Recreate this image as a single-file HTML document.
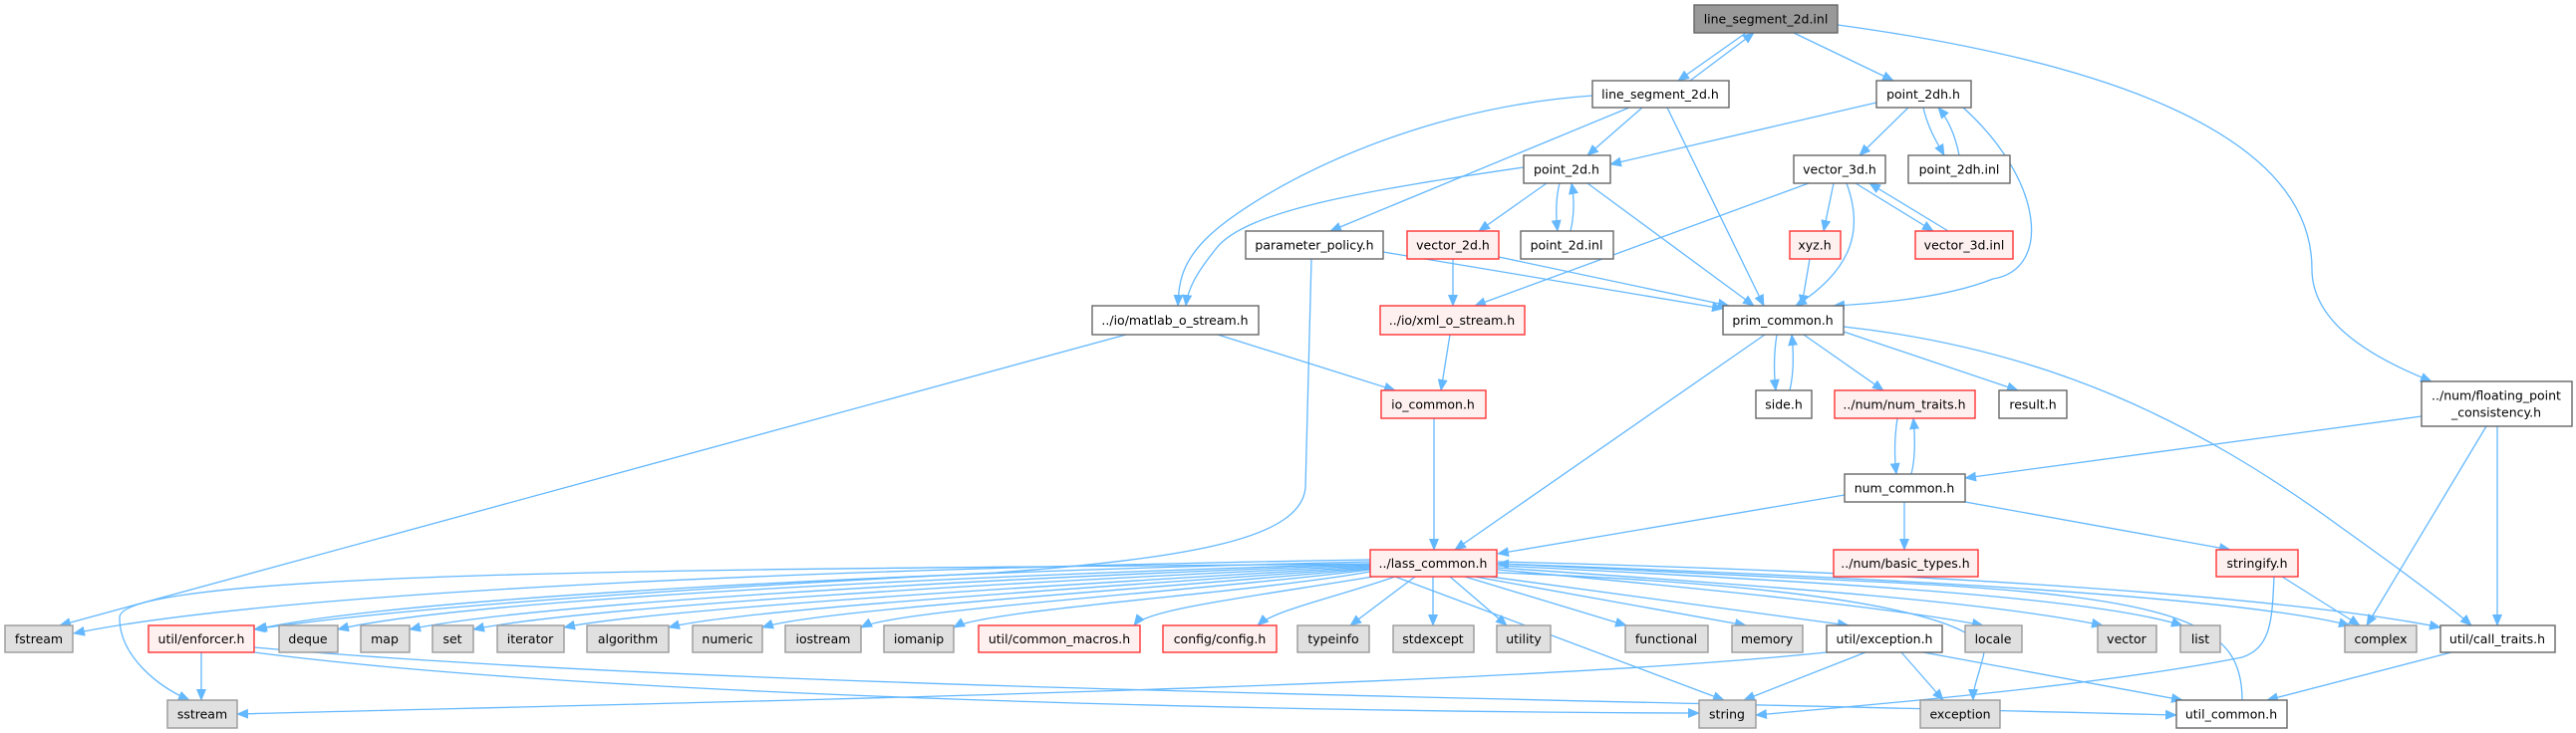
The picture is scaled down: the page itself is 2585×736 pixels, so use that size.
<!DOCTYPE html>
<html><head><meta charset="utf-8">
<style>
html,body{margin:0;padding:0;background:#fff;}
svg{display:block;}
text{font-family:"DejaVu Sans","Liberation Sans",sans-serif;font-size:12.5px;fill:#000;text-anchor:middle;dominant-baseline:central;}
.e{fill:none;stroke:#63b8ff;stroke-width:1.3;marker-end:url(#a);}
.n rect{fill:#fff;stroke:#666;stroke-width:1.4;}
.r rect{fill:#fff0f0;stroke:#ff3333;stroke-width:1.4;}
.g rect{fill:#e0e0e0;stroke:#999;stroke-width:1.4;}
.root rect{fill:#999;stroke:#666;stroke-width:1.4;}
</style></head><body>
<svg width="2585" height="736" viewBox="0 0 2585 736" xmlns="http://www.w3.org/2000/svg">
<defs><marker id="a" markerWidth="12" markerHeight="10" refX="11" refY="5" orient="auto" markerUnits="userSpaceOnUse"><path d="M0,0 L12,5 L0,10 z" fill="#63b8ff"/></marker></defs>

<path class="e" d="M1752,33 L1684,81"/>
<path class="e" d="M1696,81 L1760,33"/>
<path class="e" d="M1800,33 L1900,81"/>
<path class="e" d="M1844,25 C2100,60 2320,130 2320,270 C2320,320 2370,355 2440,383"/>
<path class="e" d="M1648,108 L1593,156"/>
<path class="e" d="M1635,108 L1335,232"/>
<path class="e" d="M1598,96 C1400,110 1250,200 1210,240 C1185,265 1183,285 1182,307"/>
<path class="e" d="M1673,108 L1770,307"/>
<path class="e" d="M1883,103 L1616,165"/>
<path class="e" d="M1915,108 L1866,156"/>
<path class="e" d="M1930,108 C1935,130 1945,145 1951,156"/>
<path class="e" d="M1966,156 C1962,135 1955,120 1945,108"/>
<path class="e" d="M1970,108 C2050,180 2060,270 2000,280 C1950,300 1880,305 1840,307"/>
<path class="e" d="M1529,168 C1380,190 1250,210 1220,250 C1200,275 1192,290 1190,307"/>
<path class="e" d="M1552,184 L1484,232"/>
<path class="e" d="M1565,184 C1561,200 1561,215 1563,232"/>
<path class="e" d="M1576,232 C1580,215 1580,200 1577,184"/>
<path class="e" d="M1593,184 L1760,307"/>
<path class="e" d="M1815,184 L1480,307"/>
<path class="e" d="M1840,184 L1830,232"/>
<path class="e" d="M1853,184 C1870,230 1860,270 1802,307"/>
<path class="e" d="M1862,184 L1940,232"/>
<path class="e" d="M1955,232 L1876,184"/>
<path class="e" d="M1816,260 L1808,307"/>
<path class="e" d="M1458,260 L1458,307"/>
<path class="e" d="M1504,258 L1735,307"/>
<path class="e" d="M1388,253 L1729,310"/>
<path class="e" d="M1316,260 L1310,490 C1305,540 1200,560 1000,575 C700,590 400,610 255,632"/>
<path class="e" d="M1130,336 L60,628"/>
<path class="e" d="M1222,336 L1400,392"/>
<path class="e" d="M1455,336 L1446,392"/>
<path class="e" d="M1439,420 L1439,552"/>
<path class="e" d="M1771,336 L1460,552"/>
<path class="e" d="M1783,336 C1780,355 1780,375 1782,392"/>
<path class="e" d="M1796,392 C1800,375 1800,355 1798,336"/>
<path class="e" d="M1810,336 L1890,392"/>
<path class="e" d="M1850,333 L2025,392"/>
<path class="e" d="M1850,328 C2050,350 2200,420 2350,530 C2420,580 2460,610 2480,628"/>
<path class="e" d="M1904,420 C1901,440 1901,460 1903,476"/>
<path class="e" d="M1918,476 C1922,460 1922,440 1920,420"/>
<path class="e" d="M2430,418 L1972,480"/>
<path class="e" d="M2495,428 L2375,628"/>
<path class="e" d="M2506,428 L2506,628"/>
<path class="e" d="M1851,497 L1503,556"/>
<path class="e" d="M1911,504 L1911,552"/>
<path class="e" d="M1972,504 L2238,552"/>
<path class="e" d="M2290,579 L2368,628"/>
<path class="e" d="M2282,579 C2280,620 2280,650 2250,660 C2100,690 1850,710 1762,718"/>

<path class="e" d="M1375,562 C900,570 300,590 74,636"/>
<path class="e" d="M1375,564 C900,575 400,600 257,632"/>
<path class="e" d="M1375,566 C900,580 450,605 339,632"/>
<path class="e" d="M1375,567 C950,582 520,608 411,632"/>
<path class="e" d="M1375,568 C1000,585 580,610 475,632"/>
<path class="e" d="M1375,569 C1050,588 650,612 566,630"/>
<path class="e" d="M1375,570 C1100,590 740,612 671,630"/>
<path class="e" d="M1375,571 C1150,592 820,612 765,630"/>
<path class="e" d="M1375,572 C1200,594 900,612 864,630"/>
<path class="e" d="M1375,574 C1250,596 990,612 957,630"/>
<path class="e" d="M1378,579 C1250,600 1150,612 1138,628"/>
<path class="e" d="M1400,579 C1340,600 1280,612 1262,628"/>
<path class="e" d="M1420,579 L1355,628"/>
<path class="e" d="M1438,579 L1438,628"/>
<path class="e" d="M1455,579 L1512,628"/>
<path class="e" d="M1470,579 L1632,628"/>
<path class="e" d="M1480,579 L1752,628"/>
<path class="e" d="M1495,579 L1855,628"/>
<path class="e" d="M1503,572 C1700,590 1900,610 1990,628"/>
<path class="e" d="M1503,570 C1800,590 2000,605 2110,628"/>
<path class="e" d="M1503,568 C1850,585 2100,600 2190,628"/>
<path class="e" d="M1503,566 C1900,580 2250,600 2358,628"/>
<path class="e" d="M1503,564 C1950,575 2300,600 2449,630"/>
<path class="e" d="M1400,579 L1730,703"/>
<path class="e" d="M1375,566 C800,572 120,570 120,620 C120,660 160,690 190,703"/>
<path class="e" d="M1503,575 C1900,590 2000,630 1990,660 C1985,680 1980,690 1980,703"/>
<path class="e" d="M2250,703 C2250,630 2200,600 1900,585 C1700,575 1600,570 1503,566"/>

<path class="e" d="M202,655 L202,703"/>
<path class="e" d="M255,655 C600,700 1300,715 1705,716"/>
<path class="e" d="M255,650 C700,690 1500,700 2184,718"/>
<path class="e" d="M1833,655 C1500,690 700,705 238,717"/>
<path class="e" d="M1872,655 L1750,703"/>
<path class="e" d="M1908,655 L1950,703"/>
<path class="e" d="M1930,655 L2190,703"/>
<path class="e" d="M2460,655 L2275,703"/>

<g class="root"><rect x="1700" y="5" width="144" height="28"/><text x="1772" y="19">line_segment_2d.inl</text></g>
<g class="n"><rect x="1598" y="81" width="137" height="27"/><text x="1666" y="94.5">line_segment_2d.h</text></g>
<g class="n"><rect x="1883" y="81" width="95" height="27"/><text x="1930" y="94.5">point_2dh.h</text></g>
<g class="n"><rect x="1529" y="156" width="87" height="28"/><text x="1572" y="170">point_2d.h</text></g>
<g class="n"><rect x="1800" y="156" width="92" height="28"/><text x="1846" y="170">vector_3d.h</text></g>
<g class="n"><rect x="1915" y="156" width="102" height="28"/><text x="1966" y="170">point_2dh.inl</text></g>
<g class="n"><rect x="1250" y="232" width="138" height="28"/><text x="1319" y="246">parameter_policy.h</text></g>
<g class="r"><rect x="1412" y="232" width="92" height="28"/><text x="1458" y="246">vector_2d.h</text></g>
<g class="n"><rect x="1526" y="232" width="93" height="28"/><text x="1572" y="246">point_2d.inl</text></g>
<g class="r"><rect x="1796" y="232" width="51" height="28"/><text x="1821" y="246">xyz.h</text></g>
<g class="r"><rect x="1922" y="232" width="98" height="28"/><text x="1971" y="246">vector_3d.inl</text></g>
<g class="n"><rect x="1096" y="307" width="167" height="29"/><text x="1179" y="321.5">../io/matlab_o_stream.h</text></g>
<g class="r"><rect x="1385" y="307" width="145" height="29"/><text x="1457" y="321.5">../io/xml_o_stream.h</text></g>
<g class="n"><rect x="1729" y="307" width="121" height="29"/><text x="1789" y="321.5">prim_common.h</text></g>
<g class="r"><rect x="1386" y="392" width="105" height="28"/><text x="1438" y="406">io_common.h</text></g>
<g class="n"><rect x="1762" y="392" width="56" height="28"/><text x="1790" y="406">side.h</text></g>
<g class="r"><rect x="1841" y="392" width="141" height="28"/><text x="1911" y="406">../num/num_traits.h</text></g>
<g class="n"><rect x="2006" y="392" width="68" height="28"/><text x="2040" y="406">result.h</text></g>
<g class="n"><rect x="2430" y="383" width="151" height="45"/><text x="2505" y="397">../num/floating_point</text><text x="2505" y="414">_consistency.h</text></g>
<g class="n"><rect x="1851" y="476" width="121" height="28"/><text x="1911" y="490">num_common.h</text></g>
<g class="r"><rect x="1375" y="552" width="127" height="27"/><text x="1438" y="565.5">../lass_common.h</text></g>
<g class="r"><rect x="1840" y="552" width="145" height="27"/><text x="1912" y="565.5">../num/basic_types.h</text></g>
<g class="r"><rect x="2224" y="552" width="82" height="27"/><text x="2265" y="565.5">stringify.h</text></g>

<g class="g"><rect x="5" y="628" width="68" height="27"/><text x="39" y="641.5">fstream</text></g>
<g class="r"><rect x="149" y="628" width="106" height="27"/><text x="202" y="641.5">util/enforcer.h</text></g>
<g class="g"><rect x="280" y="628" width="59" height="27"/><text x="309" y="641.5">deque</text></g>
<g class="g"><rect x="362" y="628" width="49" height="27"/><text x="386" y="641.5">map</text></g>
<g class="g"><rect x="434" y="628" width="41" height="27"/><text x="454" y="641.5">set</text></g>
<g class="g"><rect x="499" y="628" width="67" height="27"/><text x="532" y="641.5">iterator</text></g>
<g class="g"><rect x="589" y="628" width="82" height="27"/><text x="630" y="641.5">algorithm</text></g>
<g class="g"><rect x="695" y="628" width="70" height="27"/><text x="730" y="641.5">numeric</text></g>
<g class="g"><rect x="788" y="628" width="76" height="27"/><text x="826" y="641.5">iostream</text></g>
<g class="g"><rect x="887" y="628" width="70" height="27"/><text x="922" y="641.5">iomanip</text></g>
<g class="r"><rect x="982" y="628" width="162" height="27"/><text x="1063" y="641.5">util/common_macros.h</text></g>
<g class="r"><rect x="1167" y="628" width="114" height="27"/><text x="1224" y="641.5">config/config.h</text></g>
<g class="g"><rect x="1302" y="628" width="72" height="27"/><text x="1338" y="641.5">typeinfo</text></g>
<g class="g"><rect x="1398" y="628" width="81" height="27"/><text x="1438" y="641.5">stdexcept</text></g>
<g class="g"><rect x="1502" y="628" width="54" height="27"/><text x="1529" y="641.5">utility</text></g>
<g class="g"><rect x="1631" y="628" width="83" height="27"/><text x="1672" y="641.5">functional</text></g>
<g class="g"><rect x="1738" y="628" width="71" height="27"/><text x="1773" y="641.5">memory</text></g>
<g class="n"><rect x="1833" y="628" width="116" height="27"/><text x="1891" y="641.5">util/exception.h</text></g>
<g class="g"><rect x="1972" y="628" width="57" height="27"/><text x="2000" y="641.5">locale</text></g>
<g class="g"><rect x="2105" y="628" width="59" height="27"/><text x="2134" y="641.5">vector</text></g>
<g class="g"><rect x="2188" y="628" width="40" height="27"/><text x="2208" y="641.5">list</text></g>
<g class="g"><rect x="2353" y="628" width="72" height="27"/><text x="2389" y="641.5">complex</text></g>
<g class="n"><rect x="2449" y="628" width="115" height="27"/><text x="2506" y="641.5">util/call_traits.h</text></g>
<g class="g"><rect x="168" y="703" width="70" height="28"/><text x="203" y="717">sstream</text></g>
<g class="g"><rect x="1705" y="703" width="57" height="28"/><text x="1733" y="717">string</text></g>
<g class="g"><rect x="1927" y="703" width="80" height="28"/><text x="1967" y="717">exception</text></g>
<g class="n"><rect x="2184" y="703" width="111" height="28"/><text x="2239" y="717">util_common.h</text></g>
</svg>
</body></html>
